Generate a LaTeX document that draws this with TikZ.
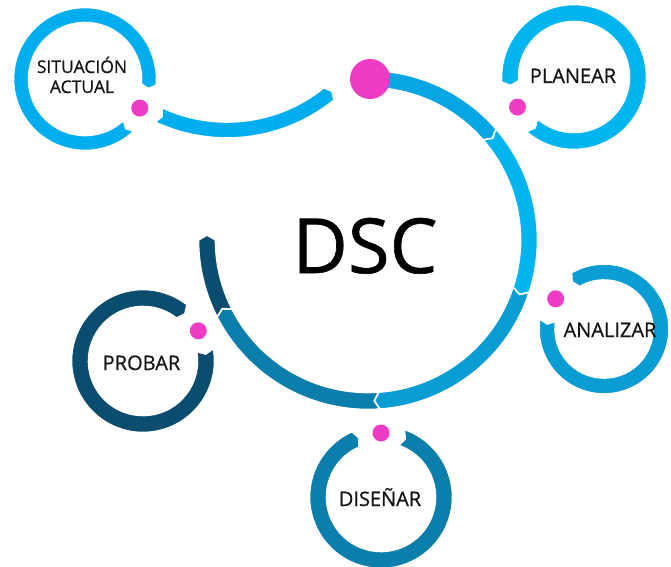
\documentclass[tikz,border=0pt]{standalone}
\usepackage{fontspec}
\setmainfont{Open Sans}
\newfontfamily\labelfont[FakeBold=0.6]{Open Sans}
\newfontfamily\titlefont[FakeBold=0.8]{Open Sans}

\definecolor{cyanA}{HTML}{00AEEF}
\definecolor{cyanB}{HTML}{05A6E3}
\definecolor{cyanC}{HTML}{00B4F0}
\definecolor{blueD}{HTML}{0A9DD3}
\definecolor{blueE}{HTML}{0C7EAB}
\definecolor{blueF}{HTML}{0B4D6E}
\definecolor{dotpink}{HTML}{F03CC5}
\definecolor{ink}{HTML}{141414}

% Curved band with a chevron notch at its start and a chevron point at its end.
% #1 centre, #2 mid radius, #3 half width, #4 start angle, #5 end angle,
% #6 chevron depth, #7 fill colour
\newcommand{\ringband}[7]{%
  \pgfmathsetmacro\rbOut{#2+#3}%
  \pgfmathsetmacro\rbIn{#2-#3}%
  \pgfmathsetmacro\rbD{sign(#5-#4)*#6/#2*57.2958}%
  \pgfmathsetmacro\rbTip{#5+\rbD}%
  \pgfmathsetmacro\rbNotch{#4+\rbD}%
  \fill[#7, draw=white, line width=1.6pt, line join=miter, shift={(#1)}]
    (#4:\rbOut pt) arc[start angle=#4, end angle=#5, radius=\rbOut pt]
    -- (\rbTip:#2pt)
    -- (#5:\rbIn pt) arc[start angle=#5, end angle=#4, radius=\rbIn pt]
    -- (\rbNotch:#2pt) -- cycle;%
}

\tikzset{
  lbl/.style={text=ink, font=\labelfont\fontsize{20}{22}\selectfont, inner sep=0pt},
  smalllbl/.style={text=ink, font=\labelfont\fontsize{17.5}{20}\selectfont, inner sep=0pt},
  title/.style={text=black, font=\titlefont\fontsize{76}{80}\selectfont, inner sep=0pt},
}

\begin{document}
\begin{tikzpicture}[x=1pt, y=1pt]
  \useasboundingbox (0,0) rectangle (671,566);
  \fill[white] (0,0) rectangle (671,566);

  % centres of the rings
  \coordinate (cMain) at (368,326);
  \coordinate (cLink) at (227,598);
  \coordinate (cSit)  at (85,487);
  \coordinate (cPlan) at (574,489);
  \coordinate (cAna)  at (604,237);
  \coordinate (cDis)  at (381,69);
  \coordinate (cPro)  at (143,205);

  % main cycle, clockwise
  \ringband{cMain}{161}{8.5}{90}{41}{5}{cyanB}
  \ringband{cMain}{161}{8.5}{41}{-18}{5}{cyanC}
  \ringband{cMain}{161}{8.5}{-18}{-86}{5}{blueD}
  \ringband{cMain}{161}{8.5}{-86}{-153}{5}{blueE}
  \ringband{cMain}{161}{8.5}{-153}{-180}{5}{blueF}

  % link from the first ring into the cycle
  \ringband{cLink}{162}{8}{-115}{-51}{4}{cyanA}

  % stage rings
  \ringband{cSit}{64}{7.5}{-47}{-365}{4}{cyanA}
  \ringband{cPlan}{64}{8.5}{229}{544}{4}{cyanC}
  \ringband{cAna}{57}{8}{171}{480}{4}{blueD}
  \ringband{cDis}{63}{8.5}{71}{-246}{4}{blueE}
  \ringband{cPro}{63}{8.5}{10}{-308}{4}{blueF}

  % dots
  \fill[dotpink] (370,487) circle[radius=20];
  \fill[dotpink, shift={(cSit)}]  (-28:62pt) circle[radius=8.5];
  \fill[dotpink, shift={(cPlan)}] (208:64pt) circle[radius=8.5];
  \fill[dotpink, shift={(cAna)}]  (148:57pt) circle[radius=8.5];
  \fill[dotpink, shift={(cDis)}]  (90:64pt)  circle[radius=8.5];
  \fill[dotpink, shift={(cPro)}]  (28.6:63pt) circle[radius=8.5];

  % labels
  \node[title, anchor=base] (dsc) at (365,293) {DSC};
  \node[smalllbl, anchor=base] (sit1) at (82,493) {SITUACIÓN};
  \node[smalllbl, anchor=base] (sit2) at (82,473) {ACTUAL};
  \node[lbl, anchor=base] (plan) at (573,483) {PLANEAR};
  \node[lbl, anchor=base] (ana) at (610,229) {ANALIZAR};
  \node[lbl, anchor=base] (dis) at (380,60) {DISEÑAR};
  \node[lbl, anchor=base] (pro) at (141.5,196) {PROBAR};
\end{tikzpicture}
\end{document}
